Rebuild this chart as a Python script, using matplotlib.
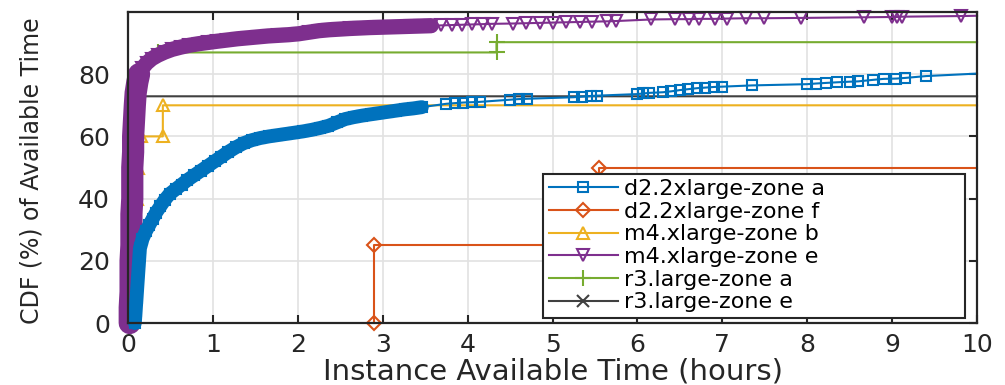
import matplotlib
matplotlib.use("Agg")
import matplotlib.pyplot as plt

# === Dados ===

# d2.2xlarge-zone a
d2a_x = [0.08, 0.09, 0.10, 0.11, 0.12, 0.13, 0.14, 0.17, 0.21, 0.25, 0.29, 0.33, 0.38, 0.43,
         0.49, 0.56, 0.63, 0.70, 0.78, 0.86, 0.94, 1.02, 1.10, 1.18, 1.27, 1.36, 1.46, 1.56,
         1.66, 1.76, 1.86, 1.96, 2.06, 2.16, 2.26, 2.36, 2.46, 2.56, 2.66, 2.76, 2.86, 2.96,
         3.06, 3.16, 3.26, 3.36, 3.46, 3.75, 3.85, 3.95, 4.05, 4.14, 4.50, 4.60, 4.70, 5.25,
         5.35, 5.45, 5.52, 5.99, 6.07, 6.14, 6.30, 6.40, 6.50, 6.60, 6.70, 6.80, 6.90, 7.00,
         7.35, 8.00, 8.10, 8.22, 8.35, 8.50, 8.60, 8.78, 8.90, 9.05, 9.15, 9.40, 10.0]
d2a_y = [0, 4, 8, 12, 16, 20, 24, 27, 29.5, 31.5, 33.5, 35.5, 37.5, 39.5,
         41.5, 43, 44.5, 46, 47.5, 49, 50.5, 52, 53.5, 55, 56.5, 57.8, 58.8, 59.5,
         60, 60.4, 60.8, 61.2, 61.6, 62.1, 62.7, 63.4, 64.5, 65.6, 66.2, 66.7, 67.1, 67.5,
         67.9, 68.3, 68.7, 69.0, 69.4, 70.5, 70.7, 70.9, 71.0, 71.1, 71.8, 72.0, 72.1, 72.6,
         72.8, 73.0, 73.1, 73.6, 73.8, 74.0, 74.2, 74.5, 74.9, 75.2, 75.5, 75.7, 75.9, 76.0,
         76.4, 76.8, 77.0, 77.2, 77.4, 77.6, 77.7, 78.2, 78.5, 78.6, 78.8, 79.4, 80.2]

# d2.2xlarge-zone f
d2f_x = [2.9, 2.9, 5.55, 5.55, 10.0]
d2f_y = [0, 25, 25, 50, 50]

# m4.xlarge-zone b
m4b_x = [0.03, 0.05, 0.06, 0.08, 0.10, 0.12, 0.15, 0.41, 0.41, 10.0]
m4b_y = [0, 10, 20, 30, 40, 50, 60, 60, 70, 70]

# m4.xlarge-zone e
m4e_x = [0.02, 0.02, 0.03, 0.03, 0.03, 0.04, 0.04, 0.04, 0.05, 0.05, 0.05, 0.06, 0.06, 0.07,
         0.08, 0.09, 0.11, 0.13, 0.17, 0.22, 0.28, 0.35, 0.43, 0.52, 0.62, 0.72, 0.83, 0.94,
         1.05, 1.17, 1.29, 1.41, 1.53, 1.65, 1.77, 1.89, 2.01, 2.13, 2.25, 2.37, 2.49, 2.61,
         2.73, 2.85, 2.97, 3.09, 3.21, 3.33, 3.45, 3.57, 3.69, 3.81, 3.93, 4.05, 4.18, 4.29,
         4.53, 4.69, 4.85, 5.00, 5.16, 5.32, 5.47, 5.64, 5.75, 6.16, 6.44, 6.61, 6.73, 6.91,
         7.06, 7.28, 7.49, 7.93, 8.67, 9.00, 9.06, 9.12, 9.81, 10.0]
m4e_y = [0, 5, 10, 15, 20, 25, 30, 35, 40, 45, 50, 55, 60, 65,
         70, 74, 77.5, 80, 82, 83.6, 85, 86.1, 87.1, 88, 88.7, 89.3, 89.8, 90.2,
         90.6, 91, 91.4, 91.7, 92, 92.3, 92.5, 92.7, 93.0, 93.5, 94.0, 94.3, 94.5, 94.7,
         94.85, 95.0, 95.1, 95.2, 95.3, 95.4, 95.5, 95.6, 95.7, 95.8, 95.9, 96.0, 96.1, 96.2,
         96.3, 96.4, 96.5, 96.6, 96.7, 96.8, 96.9, 97.0, 97.1, 97.6, 97.7, 97.7, 97.8, 97.8,
         97.9, 98.0, 98.0, 98.1, 98.3, 98.4, 98.4, 98.5, 98.7, 98.8]

# r3.large-zone a
r3a_x = [0.03, 0.10, 0.35, 4.34, 4.34, 10.0]
r3a_y = [0, 80, 87, 87, 90.3, 90.3]

# r3.large-zone e
r3e_x = [0.05, 0.08, 10.0]
r3e_y = [0, 72.9, 72.9]

labels = ["d2.2xlarge-zone a", "d2.2xlarge-zone f", "m4.xlarge-zone b",
          "m4.xlarge-zone e", "r3.large-zone a", "r3.large-zone e"]

# trechos onde os marcadores se sobrepõem (viram uma faixa contínua)
D2A_DENSE = 47   # até x = 3.46
M4E_VERT = 18    # subida quase vertical, até y = 80
M4E_DENSE = 50   # até x = 3.57

# === Figura ===

plt.rcParams["font.family"] = ["DejaVu Sans"]
fig = plt.figure(figsize=(10.05, 3.85), dpi=100)
ax = fig.add_axes([0.1274, 0.1610, 0.8448, 0.8078])

def serie(x, y, color, marker, ms, label, z):
    # sem marcador no último ponto (só fecha a linha na borda)
    ax.plot(x, y, color=color, marker=marker, ms=ms, mfc="none", mew=1.5, lw=1.5,
            markevery=list(range(len(x) - 1)), clip_on=False, zorder=z, label=label)

def faixa(x, y, i0, i1, color, lw, z):
    ax.plot(x[i0:i1], y[i0:i1], color=color, lw=lw, solid_capstyle="round",
            solid_joinstyle="round", clip_on=False, zorder=z)

serie(r3e_x, r3e_y, "#404040", "x", 8, labels[5], 2.0)
serie(r3a_x, r3a_y, "#77AC30", "+", 12, labels[4], 2.1)
serie(m4b_x, m4b_y, "#EDB120", "^", 9, labels[2], 2.2)
faixa(m4e_x, m4e_y, 0, M4E_VERT, "#7E2F8E", 16, 2.45)
faixa(m4e_x, m4e_y, M4E_VERT - 1, M4E_DENSE, "#7E2F8E", 11, 2.45)
serie(m4e_x, m4e_y, "#7E2F8E", "v", 8, labels[3], 2.5)
faixa(d2a_x, d2a_y, 0, D2A_DENSE, "#0072BD", 10, 2.55)
serie(d2a_x, d2a_y, "#0072BD", "s", 7, labels[0], 2.6)
serie(d2f_x, d2f_y, "#D95319", "D", 7, labels[1], 2.7)

ax.set_xlim(0, 10)
ax.set_ylim(0, 100)
ax.set_xticks(range(0, 11))
ax.set_yticks([0, 20, 40, 60, 80])
ax.grid(True, color="#e2e2e2", lw=1.2)
ax.set_axisbelow(True)

for s in ax.spines.values():
    s.set_linewidth(1.6)
    s.set_color("#262626")
    s.set_zorder(3)
ax.tick_params(direction="in", length=6, width=1.5, top=True, right=True,
               labelsize=18, colors="#262626")
ax.tick_params(axis="x", pad=7)
ax.tick_params(axis="y", pad=13)

ax.set_xlabel("Instance Available Time (hours)", fontsize=21, color="#262626")
ax.set_ylabel("CDF (%) of Available Time", fontsize=17, color="#262626")
ax.xaxis.set_label_coords(0.5, -0.112)
ax.yaxis.set_label_coords(-0.100, 0.49)

# ordem da legenda igual à original
handles, labs = ax.get_legend_handles_labels()
order = [labs.index(l) for l in labels]
leg = ax.legend([handles[i] for i in order], labels,
                loc="lower left", bbox_to_anchor=(0.489, 0.016, 0.497, 0.45),
                mode="expand", borderaxespad=0,
                fontsize=16, labelspacing=0.12, handlelength=3.1, handletextpad=0.3,
                borderpad=0.25, fancybox=False, framealpha=1, edgecolor="#262626")
leg.get_frame().set_linewidth(1.5)
leg.set_zorder(5)

fig.savefig("out.png", dpi=100)
